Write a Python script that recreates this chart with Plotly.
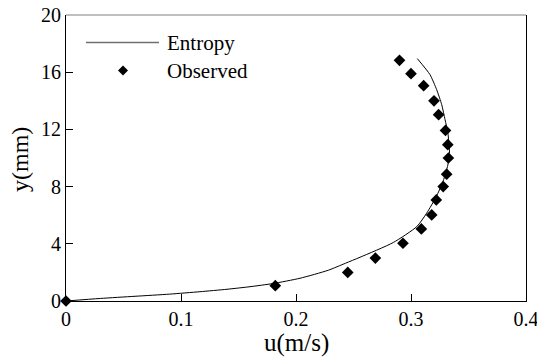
import plotly.graph_objects as go

# Entropy-based velocity profile (u in m/s, y in mm)
entropy_u = [0.0, 0.03, 0.06, 0.09, 0.1165, 0.14, 0.16, 0.18, 0.2035, 0.228, 0.243,
             0.2557, 0.2846, 0.305, 0.3136, 0.322, 0.328, 0.332, 0.3335, 0.333,
             0.332, 0.3296, 0.3267, 0.3223, 0.3165, 0.3055]
entropy_y = [0.0, 0.18, 0.33, 0.48, 0.65, 0.82, 1.0, 1.22, 1.59, 2.15, 2.64,
             3.06, 4.09, 5.2, 6.14, 7.3, 8.4, 9.5, 10.5, 11.0,
             11.8, 12.68, 13.73, 14.78, 15.83, 16.95]

# Measured velocity profile
observed_u = [0.0, 0.182, 0.245, 0.269, 0.293, 0.309, 0.318, 0.322, 0.328, 0.331,
              0.3325, 0.332, 0.330, 0.324, 0.320, 0.311, 0.300, 0.290]
observed_y = [0.0, 1.07, 2.0, 3.0, 4.04, 5.04, 6.02, 7.07, 8.0, 8.87,
              10.0, 10.93, 11.93, 13.03, 14.0, 15.06, 15.9, 16.83]

x_ticks = [0, 0.1, 0.2, 0.3, 0.4]
x_tick_text = ["0", "0.1", "0.2", "0.3", "0.4"]
y_ticks = [0, 4, 8, 12, 16, 20]

FONT = "Liberation Serif"
W, H = 537, 360
ML, MR, MT, MB = 66, 11, 15, 59
pw, ph = W - ML - MR, H - MT - MB


def px(x):
    return (x - ML) / pw


def py(y):
    return ((H - MB) - y) / ph


fig = go.Figure()
fig.add_trace(go.Scatter(x=entropy_u, y=entropy_y, mode="lines", name="Entropy",
                         line=dict(color="black", width=1, shape="spline", smoothing=0.6),
                         showlegend=False))
fig.add_trace(go.Scatter(x=observed_u, y=observed_y, mode="markers", name="Observed",
                         marker=dict(symbol="diamond", size=9, color="black"),
                         showlegend=False, cliponaxis=False))

# Hand-placed legend
fig.add_shape(type="line", xref="paper", yref="paper", x0=px(86), x1=px(159), y0=py(42.5), y1=py(42.5),
              line=dict(color="#707070", width=1.5))
fig.add_shape(type="path", xref="paper", yref="paper", xsizemode="pixel", ysizemode="pixel",
              xanchor=px(123), yanchor=py(70.5), path="M 0,5 L 5,0 L 0,-5 L -5,0 Z",
              fillcolor="black", line=dict(color="black", width=0))
fig.add_annotation(xref="paper", yref="paper", x=px(165), y=py(43), text="Entropy",
                   showarrow=False, xanchor="left", yanchor="middle",
                   font=dict(family=FONT, size=21, color="black"))
fig.add_annotation(xref="paper", yref="paper", x=px(165), y=py(71), text="Observed",
                   showarrow=False, xanchor="left", yanchor="middle",
                   font=dict(family=FONT, size=21, color="black"))

# Axis titles
fig.add_annotation(xref="paper", yref="paper", x=px(296), y=py(343),
                   text="u(m/s)", showarrow=False, xanchor="center", yanchor="middle",
                   font=dict(family=FONT, size=25, color="black"))
fig.add_annotation(xref="paper", yref="paper", x=px(20), y=py(160),
                   text="y(mm)", showarrow=False, textangle=-90, xanchor="center", yanchor="middle",
                   font=dict(family=FONT, size=24, color="black"))

# Top frame line
fig.add_shape(type="line", xref="paper", yref="paper", x0=0, x1=1, y0=1, y1=1,
              line=dict(color="#808080", width=1.2))

fig.update_layout(
    width=W, height=H,
    margin=dict(l=ML, r=MR, t=MT, b=MB, autoexpand=False),
    paper_bgcolor="white", plot_bgcolor="white",
    font=dict(family=FONT, color="black"),
    showlegend=False,
    xaxis=dict(range=[0, 0.4], tickvals=x_ticks, ticktext=x_tick_text,
               ticks="inside", ticklen=7, tickcolor="black", tickwidth=1,
               showline=True, linecolor="black", linewidth=1, mirror=False,
               showgrid=False, zeroline=False, automargin=False, ticklabeloverflow="allow",
               tickfont=dict(family=FONT, size=20, color="black")),
    yaxis=dict(range=[0, 20], tickvals=y_ticks,
               ticks="inside", ticklen=7, tickcolor="black", tickwidth=1,
               showline=True, linecolor="black", linewidth=1, mirror=True,
               showgrid=False, zeroline=False, automargin=False, ticklabeloverflow="allow",
               tickfont=dict(family=FONT, size=20, color="black")),
)

fig.write_html("out.html")
